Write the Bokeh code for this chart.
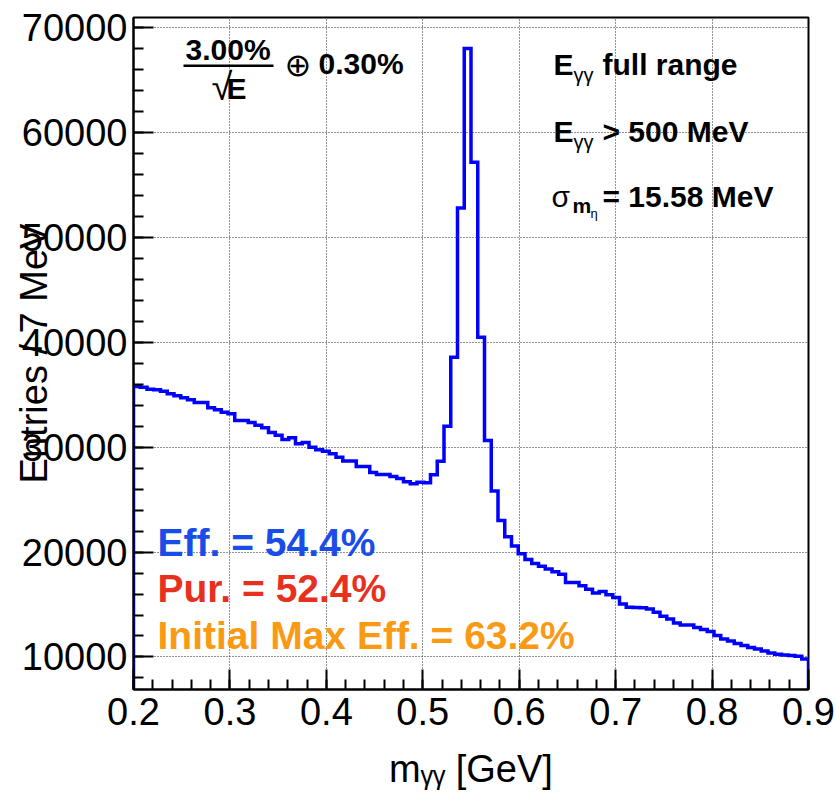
import numpy as np
from bokeh.plotting import figure
from bokeh.models import Range1d, FixedTicker, Label, BoxAnnotation
from bokeh.embed import file_html
from bokeh.resources import INLINE

# ---------------- data ----------------
x_min, x_max = 0.2, 0.9
n_bins = 100
counts = [
    35781, 35714, 35524, 35460, 35333, 35080, 34890, 34700, 34510, 34257,
    34257, 33752, 33562, 33333, 33176, 32543, 32543, 32352, 32095, 31843,
    31400, 31143, 30733, 30895, 30324, 30448, 30000, 29752, 29619, 29371,
    29048, 28667, 28667, 28162, 28162, 27590, 27400, 27400, 27210, 27000,
    26700, 26500, 26650, 26600, 27380, 28650, 32000, 38570, 52800, 68000,
    57150, 40480, 30640, 25810, 23010, 21460, 20570, 19850, 19280, 18900,
    18640, 18380, 18130, 17880, 17110, 17110, 16780, 16450, 16100, 16240,
    15920, 15660, 15050, 14730, 14710, 14700, 14570, 14260, 13880, 13620,
    13240, 13050, 13040, 12800, 12610, 12420, 12040, 11710, 11520, 11280,
    11090, 10900, 10760, 10570, 10380, 10260, 10190, 10130, 10070, 9810,
]
x_ticks = [0.2, 0.3, 0.4, 0.5, 0.6, 0.7, 0.8, 0.9]
y_ticks = [10000, 20000, 30000, 40000, 50000, 60000, 70000]
y_min, y_max = 6900, 70950

x_title = "m\u1d67\u1d67 [GeV]"
y_title = "Entries / 7 MeV"
eff_text = "Eff. = 54.4%"
pur_text = "Pur. = 52.4%"
ime_text = "Initial Max Eff. = 63.2%"

# ---------------- layout ----------------
W, H = 836, 796
BL, BR, BT, BB = 133, 28, 17, 107
FW, FH = W - BL - BR, H - BT - BB

def dx(px):
    return x_min + (px - BL) * (x_max - x_min) / FW

def dy(py):
    return y_min + (BT + FH - py) * (y_max - y_min) / FH

p = figure(width=W, height=H, x_range=Range1d(x_min, x_max), y_range=Range1d(y_min, y_max),
           output_backend="svg", toolbar_location=None,
           min_border_left=BL, min_border_right=BR, min_border_top=BT, min_border_bottom=BB)
p.background_fill_color = "white"
p.border_fill_color = "white"
p.outline_line_color = "black"
p.outline_line_width = 2

x_minor = list(np.round(np.arange(x_min, x_max + 1e-9, 0.02), 3))
y_minor = list(np.arange(8000, y_max, 2000))
p.xaxis.ticker = FixedTicker(ticks=x_ticks, minor_ticks=x_minor)
p.yaxis.ticker = FixedTicker(ticks=y_ticks, minor_ticks=y_minor)
p.xaxis.major_label_overrides = {t: ("%.1f" % t) for t in x_ticks}
p.yaxis.major_label_overrides = {t: str(t) for t in y_ticks}

for ax in (p.xaxis[0], p.yaxis[0]):
    ax.axis_line_width = 2
    ax.axis_line_color = "black"
    ax.major_tick_in = 20
    ax.major_tick_out = 0
    ax.minor_tick_in = 10
    ax.minor_tick_out = 0
    ax.major_tick_line_width = 2
    ax.minor_tick_line_width = 2
    ax.major_tick_line_color = "black"
    ax.minor_tick_line_color = "black"
    ax.major_label_text_font = "Liberation Sans"
    ax.major_label_text_font_size = "38px"
    ax.major_label_text_color = "black"
    ax.axis_label_text_font = "Liberation Sans"
    ax.axis_label_text_font_size = "38px"
    ax.axis_label_text_font_style = "normal"
    ax.axis_label_text_color = "black"
p.xaxis.major_label_standoff = 8
p.yaxis.major_label_standoff = 6
p.xaxis.axis_label = x_title
p.yaxis.axis_label = y_title
p.xaxis.axis_label_standoff = 20
p.yaxis.axis_label_standoff = -36

for g in (p.xgrid[0], p.ygrid[0]):
    g.grid_line_color = "black"
    g.grid_line_width = 1
    g.grid_line_dash = "1 2"
    g.grid_line_alpha = 0.85

# ---------------- histogram ----------------
edges = np.linspace(x_min, x_max, n_bins + 1)
xs = np.repeat(edges, 2)
ys = np.concatenate([[y_min], np.repeat(np.array(counts, dtype=float), 2), [y_min]])
p.line(xs, ys, line_color="#0000ff", line_width=3.5, line_join="miter")

# ---------------- texts ----------------
# (px, py) = reference pixel position of the text's left edge / visual middle
def lab(px, py, text, size, bold=True, color="black", font="Liberation Sans", **kw):
    p.add_layout(Label(x=dx(px), y=dy(py), text=text, text_font=font,
                       text_font_size="%dpx" % size,
                       text_font_style="bold" if bold else "normal",
                       text_color=color, text_baseline="middle",
                       text_align=kw.pop("align", "left"), **kw))

# resolution formula
lab(185, 49, "3.00%", 30)
p.add_layout(BoxAnnotation(left=dx(183), right=dx(273), top=dy(64), bottom=dy(66.5),
                           fill_color="black", fill_alpha=1, line_alpha=0))
lab(211, 86, "\u221a", 38, bold=False)
lab(226, 88, "E", 30)
lab(284, 64, "\u2295", 32, bold=False, font="DejaVu Sans")
lab(318, 63, "0.30%", 30)

# right column
lab(553, 64, "E", 30)
lab(573, 74, "\u03b3\u03b3", 20, bold=False)
lab(602, 64, "full range", 30)
lab(553, 131, "E", 30)
lab(573, 141, "\u03b3\u03b3", 20, bold=False)
lab(602, 131, "> 500 MeV", 30)
lab(551, 196, "\u03c3", 30, bold=False)
lab(572, 205, "m", 21)
lab(590, 213, "\u03b7", 13, bold=False)
lab(602, 196, "= 15.58 MeV", 30)

# efficiency texts
lab(157, 542, eff_text, 39, color="#1a4ce8")
lab(157, 588, pur_text, 39, color="#e8301e")
lab(157, 635, ime_text, 39, color="#fa9a14")

open("out.html", "w").write(file_html(p, INLINE))
